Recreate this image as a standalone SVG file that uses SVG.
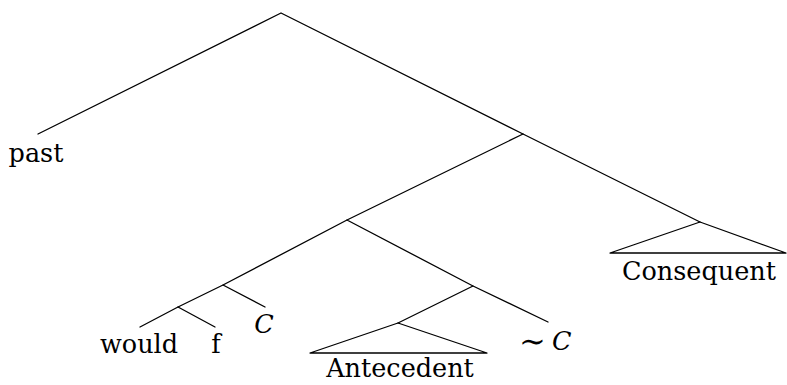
<svg xmlns="http://www.w3.org/2000/svg" width="787" height="385" viewBox="0 0 787 385">
<style>
.e{stroke:#000;stroke-width:1.3;fill:none;stroke-linecap:round;stroke-linejoin:round}
.t{font-family:'DejaVu Serif',serif;font-size:25.5px;fill:#000}
.m{text-anchor:middle}
.i{font-style:italic}
</style>
<rect width="787" height="385" fill="#fff"/>
<g id="connectors">
<polyline class="e" points="38,134 281,13 523,134 700,222"/>
<polyline class="e" points="523,134 347,220 473,286 548,322"/>
<line class="e" x1="473" y1="286" x2="398" y2="323"/>
<polyline class="e" points="347,220 223,285 178,307 140,327"/>
<line class="e" x1="178" y1="307" x2="215" y2="327"/>
<line class="e" x1="223" y1="285" x2="265" y2="307"/>
</g>
<g id="consequent">
<polygon class="e" points="700,222 610,253 786,253"/>
<text class="t m" x="699" y="280">Consequent</text>
</g>
<g id="antecedent">
<polygon class="e" points="398,323 310,353 487,353"/>
<text class="t m" x="400" y="377">Antecedent</text>
</g>
<g id="past"><text class="t m" x="36" y="162">past</text></g>
<g id="would"><text class="t m" x="139" y="353">would</text></g>
<g id="f"><text class="t m" x="216" y="353">f</text></g>
<g id="C"><text class="t m i" x="264" y="333">C</text></g>
<g id="notC"><text class="t" x="519" y="352" style="font-size:32px">∼</text><text class="t i" x="552" y="350">C</text></g>
</svg>
